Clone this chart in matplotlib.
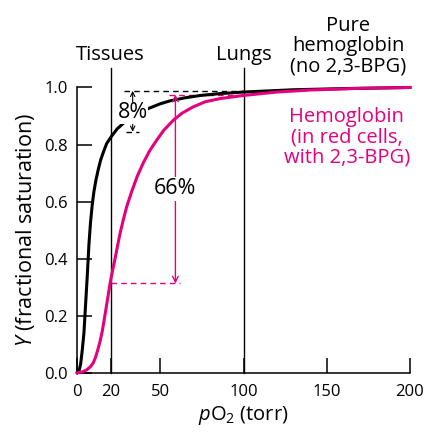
import matplotlib
matplotlib.use("Agg")
import matplotlib.pyplot as plt

plt.rcParams['font.family'] = ['Open Sans', 'DejaVu Sans']
plt.rcParams['mathtext.fontset'] = 'custom'
plt.rcParams['mathtext.rm'] = 'Open Sans'
plt.rcParams['mathtext.it'] = 'Open Sans:italic'

# pO2 (torr) and fractional saturation
po2_pure = [0, 1, 2, 3, 4, 5, 6, 7, 8, 9, 10, 11.2, 12.5, 14, 15.8, 17.7,
            20.7, 24, 27.6, 31, 35, 42.6, 50, 55.7, 65, 74, 85, 100, 115,
            130, 160, 200]
y_pure = [0, 0.006, 0.03, 0.08, 0.14, 0.24, 0.34, 0.45, 0.53, 0.59, 0.635,
          0.675, 0.71, 0.745, 0.775, 0.804, 0.83, 0.855, 0.874, 0.89, 0.905,
          0.926, 0.943, 0.953, 0.964, 0.972, 0.978, 0.984, 0.988, 0.992,
          0.996, 1.0]

po2_rbc = [0, 3, 5.6, 8, 9.6, 11, 12.3, 13.6, 15, 16.3, 17.7, 19.7, 21.2,
           22.7, 24.2, 25.7, 27.7, 29.7, 32.7, 36, 39.7, 43.5, 47.7, 52, 57.7,
           63, 69.7, 77, 85.8, 100, 120, 140, 170, 200]
y_rbc = [0, 0.003, 0.01, 0.022, 0.035, 0.055, 0.08, 0.108, 0.145, 0.19,
         0.24, 0.313, 0.358, 0.40, 0.445, 0.488, 0.537, 0.582, 0.635, 0.688,
         0.736, 0.778, 0.815, 0.85, 0.885, 0.91, 0.932, 0.95, 0.961, 0.972,
         0.984, 0.991, 0.997, 1.0]

tissues = 20
lungs = 100
xticks = [0, 20, 50, 100, 150, 200]
yticks = [0.0, 0.2, 0.4, 0.6, 0.8, 1.0]

black = "black"
pink = "#E5007E"

fig = plt.figure(figsize=(4.27, 4.33), dpi=100)
ax = fig.add_axes([0.181, 0.139, 0.779, 0.659])

ax.plot(po2_pure, y_pure, color=black, lw=2.2, clip_on=False, zorder=3,
        solid_joinstyle="round")
ax.plot(po2_rbc, y_rbc, color=pink, lw=2.2, clip_on=False, zorder=3,
        solid_joinstyle="round")

# tissues / lungs markers
for xv in (tissues, lungs):
    ax.plot([xv, xv], [0, 1.067], color=black, lw=1.0, clip_on=False, zorder=2)
ax.text(tissues, 1.113, "Tissues", ha="center", va="center", fontsize=14.5)
ax.text(lungs, 1.113, "Lungs", ha="center", va="center", fontsize=14.5)

# 8% difference (pure hemoglobin)
ax.plot([28, 100], [0.988, 0.988], color=black, lw=1.0, ls=(0, (4, 3)), zorder=2)
ax.plot([29, 37], [0.845, 0.845], color=black, lw=1.0, ls=(0, (4, 3)), zorder=2)
ax.annotate("", xy=(33.3, 0.988), xytext=(33.3, 0.845),
            arrowprops=dict(arrowstyle="<->", color=black, lw=0.8,
                            shrinkA=0, shrinkB=0, mutation_scale=8))
ax.text(33.3, 0.912, "8%", ha="center", va="center", fontsize=15.5, zorder=5,
        bbox=dict(facecolor="white", edgecolor="none", pad=0.3))

# 66% difference (red cells)
ax.plot([55, 100], [0.975, 0.975], color=pink, lw=1.0, ls=(0, (4, 3)), zorder=2)
ax.plot([20, 62], [0.313, 0.313], color=pink, lw=1.0, ls=(0, (4, 3)), zorder=2)
ax.annotate("", xy=(59, 0.975), xytext=(59, 0.313),
            arrowprops=dict(arrowstyle="<->", color=pink, lw=1.0,
                            shrinkA=0, shrinkB=0, mutation_scale=10))
ax.text(59, 0.645, "66%", ha="center", va="center", fontsize=15.5, zorder=5,
        bbox=dict(facecolor="white", edgecolor="none", pad=1))

ax.text(163, 1.145, "Pure\nhemoglobin\n(no 2,3-BPG)", ha="center", va="center",
        fontsize=14.5, linespacing=1.0)
ax.text(162, 0.825, "Hemoglobin\n(in red cells,\nwith 2,3-BPG)", ha="center",
        va="center", fontsize=14.5, linespacing=1.0, color=pink)

ax.set_xlim(0, 200)
ax.set_ylim(0, 1.0)
ax.set_xticks(xticks)
ax.set_yticks(yticks)
ax.set_yticklabels(["%.1f" % v for v in yticks])
ax.tick_params(direction="in", length=11, width=1.1, labelsize=12)
ax.tick_params(axis="x", pad=8)
ax.tick_params(axis="y", pad=7)
for s in ("top", "right"):
    ax.spines[s].set_visible(False)
for s in ("left", "bottom"):
    ax.spines[s].set_linewidth(1.1)

ax.set_xlabel("$p\\mathrm{O}_2$ (torr)", fontsize=14.5, labelpad=3)
ax.set_ylabel("$Y$ (fractional saturation)", fontsize=15.5, labelpad=5)

fig.savefig("out.png", dpi=100)
